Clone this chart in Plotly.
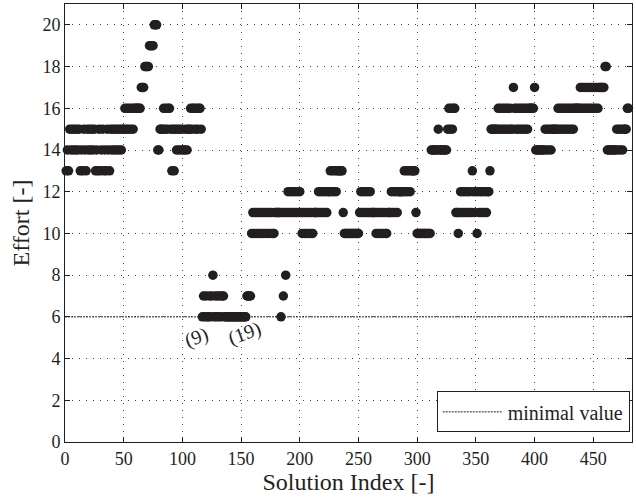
import plotly.graph_objects as go

# Effort of each solution, listed in solution-index order (index 1 .. 480)
effort = [
    13, 14, 13, 15, 14, 15, 14, 15, 14, 15,
    14, 15, 13, 14, 13, 15, 14, 13, 15, 14,
    15, 14, 15, 14, 15, 13, 14, 13, 15, 13,
    14, 15, 13, 14, 13, 15, 14, 13, 15, 14,
    15, 14, 15, 14, 15, 14, 15, 14, 15, 15,
    16, 15, 16, 15, 16, 15, 16, 15, 16, 16,
    16, 16, 16, 16, 17, 17, 17, 18, 18, 18,
    18, 19, 19, 19, 19, 20, 20, 20, 14, 14,
    15, 15, 15, 16, 15, 16, 15, 16, 16, 15,
    13, 15, 13, 15, 14, 15, 14, 15, 14, 15,
    14, 14, 15, 14, 15, 15, 16, 15, 16, 16,
    15, 16, 15, 16, 16, 15, 6, 7, 6, 7,
    6, 6, 7, 6, 7, 8, 6, 7, 6, 7,
    6, 7, 6, 7, 7, 6, 6, 6, 6, 6,
    6, 6, 6, 6, 6, 6, 6, 6, 6, 6,
    6, 6, 6, 6, 7, 7, 7, 7, 10, 11,
    10, 11, 10, 11, 10, 11, 10, 11, 10, 11,
    10, 11, 10, 11, 10, 11, 10, 10, 11, 11,
    11, 11, 11, 6, 11, 7, 11, 8, 11, 12,
    11, 12, 11, 12, 11, 12, 11, 12, 11, 12,
    11, 10, 11, 10, 11, 10, 11, 10, 11, 10,
    10, 11, 11, 11, 11, 12, 11, 12, 11, 12,
    11, 12, 11, 12, 12, 13, 12, 13, 12, 13,
    12, 13, 13, 13, 13, 13, 11, 10, 10, 10,
    10, 10, 10, 10, 10, 10, 10, 10, 10, 10,
    11, 12, 11, 12, 11, 12, 11, 12, 11, 12,
    11, 11, 11, 11, 10, 11, 10, 11, 10, 11,
    10, 11, 10, 10, 11, 11, 11, 12, 11, 12,
    11, 12, 11, 12, 12, 12, 12, 12, 13, 12,
    13, 12, 13, 12, 13, 13, 13, 13, 11, 10,
    10, 10, 10, 10, 10, 10, 10, 10, 10, 10,
    10, 14, 14, 14, 14, 14, 14, 15, 14, 14,
    14, 14, 14, 14, 14, 15, 16, 15, 16, 15,
    16, 16, 11, 11, 10, 11, 12, 11, 12, 11,
    12, 11, 12, 11, 12, 11, 13, 12, 11, 12,
    10, 12, 11, 12, 11, 12, 11, 12, 11, 12,
    12, 13, 15, 15, 15, 15, 15, 15, 16, 15,
    16, 15, 16, 15, 16, 15, 16, 15, 16, 15,
    15, 17, 16, 15, 16, 15, 16, 15, 16, 15,
    16, 15, 16, 15, 16, 16, 16, 16, 16, 17,
    14, 14, 14, 14, 14, 14, 14, 14, 15, 14,
    15, 14, 15, 14, 15, 15, 15, 15, 15, 16,
    15, 16, 15, 16, 15, 16, 15, 16, 15, 16,
    15, 16, 15, 16, 16, 16, 16, 16, 17, 16,
    17, 16, 17, 16, 17, 16, 17, 16, 17, 16,
    17, 16, 17, 16, 17, 17, 17, 17, 17, 18,
    18, 14, 14, 14, 14, 14, 14, 14, 14, 15,
    14, 15, 14, 15, 14, 15, 15, 15, 16, 16,
]
solution_index = list(range(1, len(effort) + 1))

x_ticks = [0, 50, 100, 150, 200, 250, 300, 350, 400, 450]
y_ticks = [0, 2, 4, 6, 8, 10, 12, 14, 16, 18, 20]

# Labels counting the solutions that reach the minimal effort, with their positions
group_labels = ["(9)", "(19)"]
group_label_x = [112, 153]
group_label_y = [5.0, 5.2]

X_MAX = 483
Y_MAX = 21
INK = "#231f20"
FONT = "Liberation Serif"

minimal_value = min(effort)

fig = go.Figure()

fig.add_trace(go.Scatter(
    x=[0, X_MAX],
    y=[minimal_value, minimal_value],
    mode="lines",
    line=dict(color=INK, width=1, dash="2px,1px"),
    name="minimal value",
    showlegend=True,
))

fig.add_trace(go.Scatter(
    x=solution_index,
    y=effort,
    mode="markers",
    marker=dict(color=INK, size=9.5, line=dict(width=0)),
    showlegend=False,
    cliponaxis=False,
))

for text, lx, ly in zip(group_labels, group_label_x, group_label_y):
    fig.add_annotation(
        x=lx, y=ly, text=text, showarrow=False,
        textangle=-20, font=dict(family=FONT, size=20, color=INK),
    )

axis_common = dict(
    showline=True, linecolor=INK, linewidth=1, mirror="ticks",
    ticks="inside", ticklen=5, tickcolor=INK,
    showgrid=True, gridcolor="#444444", gridwidth=1, griddash="1px,6px",
    zeroline=False,
    tickfont=dict(family=FONT, size=18, color=INK),
)

fig.update_xaxes(
    range=[0, X_MAX], tickvals=x_ticks,
    title=dict(text="Solution Index [-]", font=dict(family=FONT, size=24, color=INK), standoff=2),
    **axis_common,
)
fig.update_yaxes(
    range=[0, Y_MAX], tickvals=y_ticks,
    title=dict(text="Effort [-]", font=dict(family=FONT, size=24, color=INK), standoff=6),
    **axis_common,
)

fig.update_layout(
    width=636, height=500,
    margin=dict(l=65, r=4, t=4, b=58),
    paper_bgcolor="white", plot_bgcolor="white",
    font=dict(family=FONT, color=INK),
    legend=dict(
        x=0.996, y=0.022, xanchor="right", yanchor="bottom",
        bgcolor="white", bordercolor=INK, borderwidth=1,
        font=dict(family=FONT, size=20, color=INK),
        itemwidth=60,
    ),
)

fig.write_html("out.html")
